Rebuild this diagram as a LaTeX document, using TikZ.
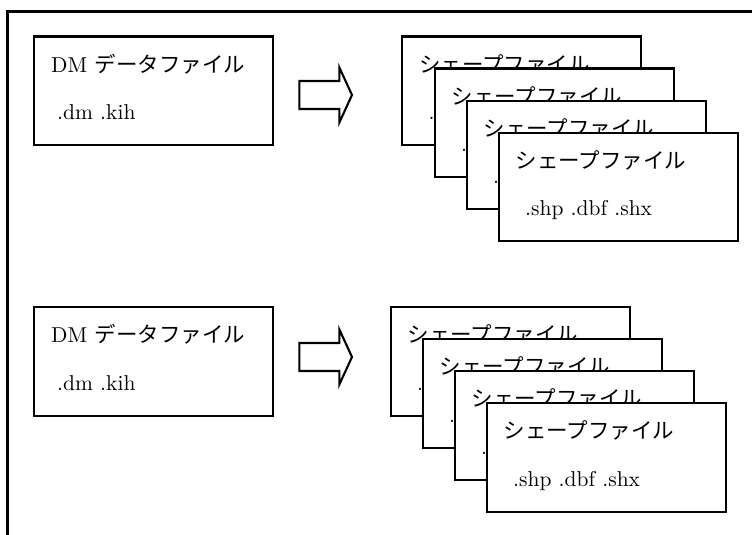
\documentclass[tikz,border=0pt]{standalone}
\usepackage{fontspec}
\setmainfont{lmroman10-regular.otf}
\newfontfamily\jp{Noto Sans CJK JP}
\usetikzlibrary{calc}

\tikzset{
  filebox/.style={draw, fill=white, line width=2.1pt, inner sep=0pt,
    minimum width=239pt, minimum height=108.5pt, anchor=north west},
  boxtext/.style={inner sep=0pt, anchor=base west,
    font=\fontsize{21.5}{25}\selectfont},
  framerule/.style={line width=2.1pt},
  blockarrow/.style={draw, line width=2.1pt, line join=miter, fill=white}
}

% title line and extension line of one file box
\newcommand{\boxlabels}[4]{%
  \node[boxtext] (#1-title) at ($(#1.north west)+(18,36.5)$) {#2};
  \node[boxtext] (#1-ext)   at ($(#1.north west)+(#3,84)$) {#4};
}
% hollow block arrow with its tip at the given coordinate
\newcommand{\blockarrowat}[1]{%
  \draw[blockarrow] ($(#1)+(-52.7,-14)$) -- ($(#1)+(-12.7,-14)$)
    -- ($(#1)+(-12.7,-27.6)$) -- (#1) -- ($(#1)+(-12.7,27.6)$)
    -- ($(#1)+(-12.7,14)$) -- ($(#1)+(-52.7,14)$) -- cycle;
}

\begin{document}
\begin{tikzpicture}[x=1pt, y=-1pt]
\useasboundingbox (0,0) rectangle (752,535);

% outer frame (open at right and bottom)
\coordinate (frameBL) at (7.5,536);
\coordinate (frameTL) at (7.5,11.5);
\coordinate (frameTR) at (753,11.5);
\draw[framerule] (frameBL) -- (frameTL) -- (frameTR);

% ---------- upper conversion ----------
\node[filebox] (dm1) at (33,35.5) {};
\boxlabels{dm1}{DM {\jp データファイル}}{24}{.dm .kih}

\coordinate (tip1) at (352,95);
\blockarrowat{tip1}

\foreach \n/\x/\y in {a/401/35.5, b/433.5/67.5, c/465.5/99.5, d/497.5/131.5}{
  \node[filebox] (shp1\n) at (\x,\y) {};
  \boxlabels{shp1\n}{\jp シェープファイル}{27.5}{.shp .dbf .shx}
}

% ---------- lower conversion ----------
\node[filebox] (dm2) at (33,306) {};
\boxlabels{dm2}{DM {\jp データファイル}}{24}{.dm .kih}

\coordinate (tip2) at (352,357);
\blockarrowat{tip2}

\foreach \n/\x/\y in {a/389.5/306, b/421.5/338, c/453.5/370, d/485.5/402}{
  \node[filebox] (shp2\n) at (\x,\y) {};
  \boxlabels{shp2\n}{\jp シェープファイル}{27.5}{.shp .dbf .shx}
}
\end{tikzpicture}
\end{document}
